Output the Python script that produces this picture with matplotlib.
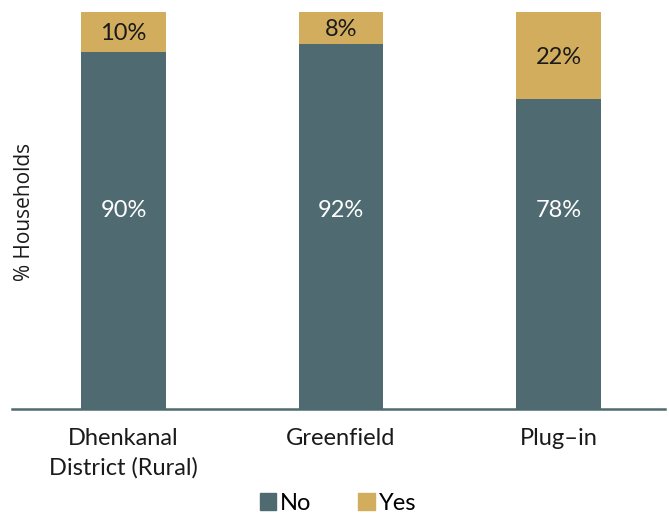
import matplotlib
matplotlib.use("Agg")
import matplotlib.pyplot as plt
from matplotlib.patches import Patch

categories = ["Dhenkanal\nDistrict (Rural)", "Greenfield", "Plug\u2013in"]
no_share = [90, 92, 78]
yes_share = [10, 8, 22]

teal = "#4F6B71"
gold = "#D3AD5E"

fig = plt.figure(figsize=(6.69, 5.15), dpi=100)
ax = fig.add_axes([12 / 669, 1 - 409 / 515, 653 / 669, 397 / 515])

x = list(range(len(categories)))
ax.bar(x, no_share, width=0.39, color=teal, zorder=2)
ax.bar(x, yes_share, width=0.39, bottom=no_share, color=gold, zorder=2)

for xi, n, y in zip(x, no_share, yes_share):
    ax.text(xi, 50, f"{n}%", ha="center", va="center", color="white",
            fontsize=17, family="Lato")
    ax.text(xi, n + y / 2 - 0.5, f"{y}%", ha="center", va="center", color="#1a1a1a",
            fontsize=17, family="Lato")

ax.set_xlim(-0.513, 2.49)
ax.set_ylim(0, 100)
for side in ["top", "right", "left"]:
    ax.spines[side].set_visible(False)
ax.spines["bottom"].set_color(teal)
ax.spines["bottom"].set_linewidth(1.8)
ax.set_yticks([])
ax.set_xticks(x)
ax.set_xticklabels(categories, fontsize=17, family="Lato", color="#1a1a1a",
                   linespacing=1.45)
ax.tick_params(axis="x", length=0, pad=14)

fig.text(25 / 669, 1 - 212 / 515, "% Households", rotation=90, ha="center",
         va="center", fontsize=15, family="Open Sans", color="#1a1a1a")

handles = [Patch(color=teal, label="No"), Patch(color=gold, label="Yes")]
fig.legend(handles=handles, loc="center", bbox_to_anchor=(0.505, 1 - 503 / 515),
           ncol=2, frameon=False, prop={"family": "Lato", "size": 17},
           handlelength=0.7, handleheight=0.7, handletextpad=0.15,
           columnspacing=2.0)

fig.savefig("out.png", dpi=100)
